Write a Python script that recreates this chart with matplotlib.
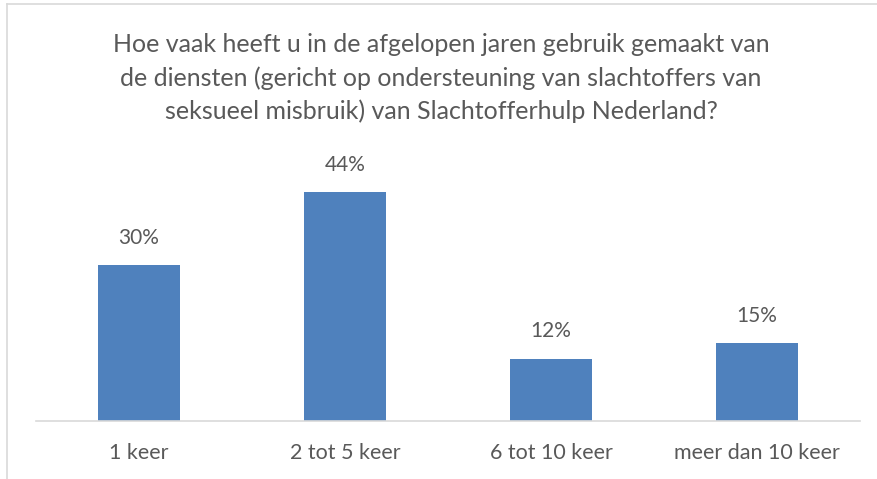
import matplotlib
matplotlib.use("Agg")
import matplotlib.pyplot as plt
from matplotlib.lines import Line2D

categories = ["1 keer", "2 tot 5 keer", "6 tot 10 keer", "meer dan 10 keer"]
values = [30, 44, 12, 15]
labels = ["30%", "44%", "12%", "15%"]
title = ("Hoe vaak heeft u in de afgelopen jaren gebruik gemaakt van\n"
         "de diensten (gericht op ondersteuning van slachtoffers van\n"
         "seksueel misbruik) van Slachtofferhulp Nederland?")

plt.rcParams['font.family'] = ['Lato', 'DejaVu Sans']
txt = "#595959"

fig = plt.figure(figsize=(8.78, 4.79), dpi=100)
ax = fig.add_axes([36 / 878, 58 / 479, 824 / 878, 260 / 479])

x = range(len(categories))
ax.bar(x, values, width=0.4, color="#4F81BD", zorder=2)
for i, v in enumerate(values):
    ax.text(i, v + 3.3, labels[i], ha="center", va="bottom", fontsize=15, color=txt)

ax.set_xlim(-0.5, 3.5)
ax.set_ylim(0, 50)
ax.set_xticks(list(x))
ax.set_xticklabels(categories, fontsize=15.5, color=txt)
ax.tick_params(axis="x", length=0, pad=16)
ax.set_yticks([])
for s in ["top", "right", "left"]:
    ax.spines[s].set_visible(False)
ax.spines["bottom"].set_color("#D9D9D9")
ax.spines["bottom"].set_linewidth(1.2)

fig.text(441 / 878, 1 - 78 / 479, title, ha="center", va="center",
         fontsize=18, color=txt, linespacing=1.5)

# chart frame (only top and left edges visible)
fig.add_artist(Line2D([7.5 / 878, 1], [1 - 3.5 / 479, 1 - 3.5 / 479],
                      color="#D9D9D9", lw=1.2, transform=fig.transFigure))
fig.add_artist(Line2D([7.5 / 878, 7.5 / 878], [0, 1 - 3.5 / 479],
                      color="#D9D9D9", lw=1.2, transform=fig.transFigure))

fig.savefig("out.png", dpi=100)
